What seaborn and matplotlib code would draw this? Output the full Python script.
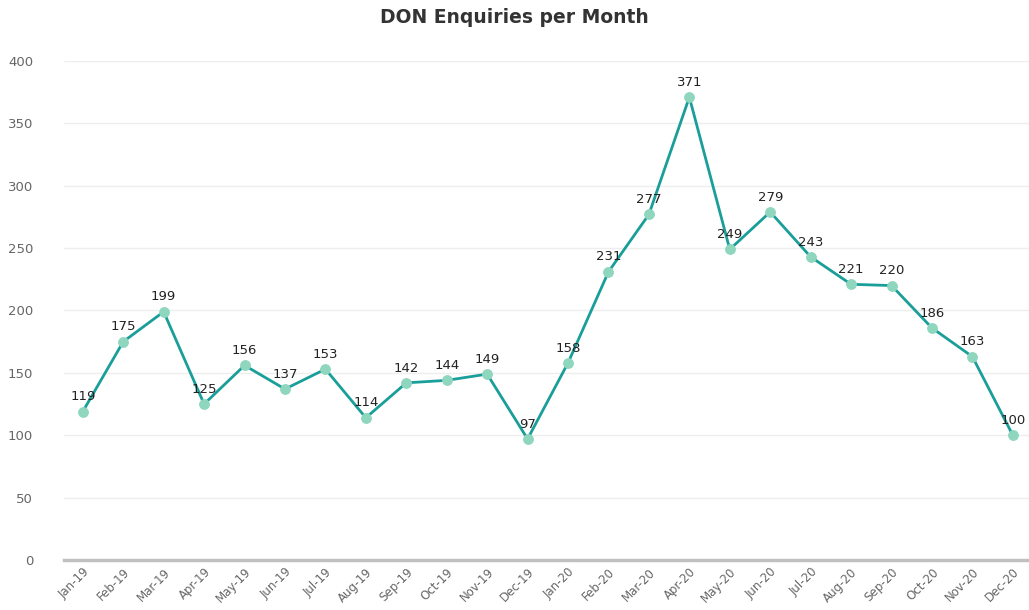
import pandas as pd
import numpy as np
import matplotlib.pyplot as plt
import seaborn as sns

# Datos: consultas DON por mes
meses = ["Jan-19", "Feb-19", "Mar-19", "Apr-19", "May-19", "Jun-19", "Jul-19", "Aug-19",
         "Sep-19", "Oct-19", "Nov-19", "Dec-19", "Jan-20", "Feb-20", "Mar-20", "Apr-20",
         "May-20", "Jun-20", "Jul-20", "Aug-20", "Sep-20", "Oct-20", "Nov-20", "Dec-20"]
consultas = [119, 175, 199, 125, 156, 137, 153, 114, 142, 144, 149, 97,
             158, 231, 277, 371, 249, 279, 243, 221, 220, 186, 163, 100]

df = pd.DataFrame({"Mes": meses, "Consultas": consultas})
df["pos"] = np.arange(len(df))

sns.set_style("white")
fig = plt.figure(figsize=(10.29, 6.10), dpi=100)
ax = fig.add_axes([0.062, 0.082, 0.938, 0.818])

sns.lineplot(data=df, x="pos", y="Consultas", ax=ax, color="#1a9e9a", linewidth=2,
             marker="o", markersize=7, markerfacecolor="#8fd6bf", markeredgecolor="#8fd6bf")

for x, y in zip(df["pos"], df["Consultas"]):
    ax.annotate(str(y), (x, y), xytext=(0, 6), textcoords="offset points",
                ha="center", va="bottom", fontsize=9.5, color="#222222")

ax.set_xlim(-0.47, 23.4)
ax.set_ylim(0, 400)
ax.set_yticks(range(0, 401, 50))
ax.set_xticks(df["pos"])
ax.set_xticklabels(meses, rotation=45, ha="right", rotation_mode="anchor",
                   fontsize=8.5, color="#666666")
ax.tick_params(axis="y", labelsize=9.5, labelcolor="#666666", length=0, pad=22)
ax.tick_params(axis="x", length=0, pad=4)
ax.grid(axis="y", color="#eeeeee", linewidth=1)
ax.set_axisbelow(True)
for s in ["top", "right", "left"]:
    ax.spines[s].set_visible(False)
ax.spines["bottom"].set_color("#c0c0c0")
ax.spines["bottom"].set_linewidth(2.5)
ax.set_xlabel("")
ax.set_ylabel("")

fig.text(0.500, 0.972, "DON Enquiries per Month", ha="center", va="center",
         fontsize=13.5, fontweight="bold", color="#333333")

plt.savefig("out.png", dpi=100)
